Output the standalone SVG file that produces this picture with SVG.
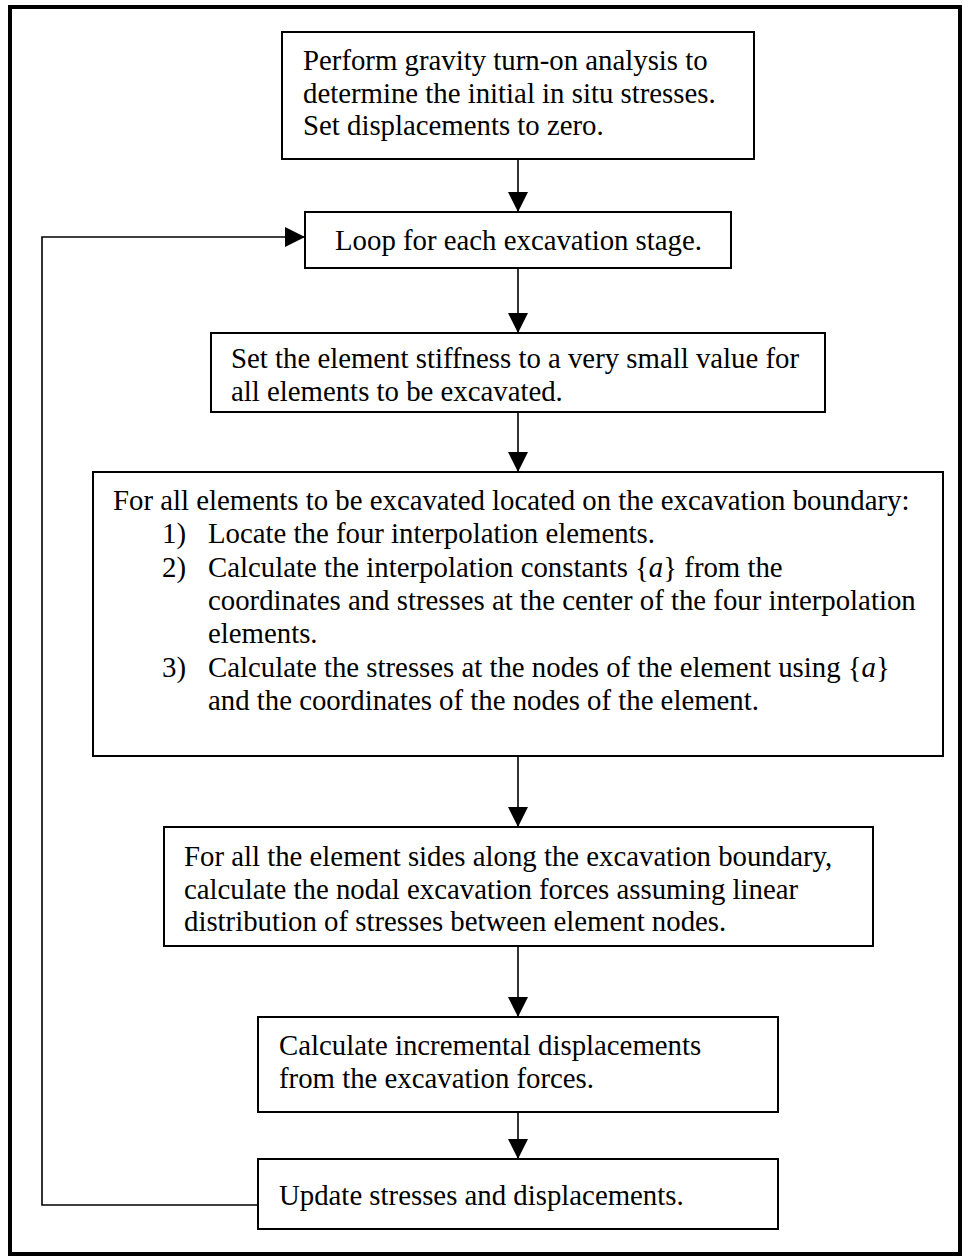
<svg xmlns="http://www.w3.org/2000/svg" width="964" height="1256" viewBox="0 0 964 1256">
<defs>
<style>
.box{fill:#fff;stroke:#000;stroke-width:2}
.t{font-family:"Liberation Serif","Times New Roman",serif;font-size:28.8px;fill:#000}
.c{fill:none;stroke:#000;stroke-width:1.6}
</style>
<marker id="ah" viewBox="0 0 20 20" refX="20" refY="10" markerWidth="20" markerHeight="20" markerUnits="userSpaceOnUse" orient="auto">
<path d="M0,0 L20,10 L0,20 Z" fill="#000"/>
</marker>
</defs>
<rect x="0" y="0" width="964" height="1256" fill="#fff"/>
<rect x="10" y="7" width="950" height="1247" fill="none" stroke="#000" stroke-width="4"/>
<g id="connectors">
<line class="c" x1="518" y1="159" x2="518" y2="212" marker-end="url(#ah)"/>
<line class="c" x1="518" y1="268" x2="518" y2="333" marker-end="url(#ah)"/>
<line class="c" x1="518" y1="412" x2="518" y2="472" marker-end="url(#ah)"/>
<line class="c" x1="518" y1="756" x2="518" y2="827" marker-end="url(#ah)"/>
<line class="c" x1="518" y1="946" x2="518" y2="1017" marker-end="url(#ah)"/>
<line class="c" x1="518" y1="1112" x2="518" y2="1159" marker-end="url(#ah)"/>
<polyline class="c" points="258,1205 42,1205 42,237 305,237" marker-end="url(#ah)"/>
</g>
<g id="n1">
<rect class="box" x="282" y="32" width="472" height="127"/>
<text class="t" x="303" y="70">Perform gravity turn-on analysis to</text>
<text class="t" x="303" y="103">determine the initial in situ stresses.</text>
<text class="t" x="303" y="135">Set displacements to zero.</text>
</g>
<g id="n2">
<rect class="box" x="305" y="212" width="426" height="56"/>
<text class="t" x="335" y="250">Loop for each excavation stage.</text>
</g>
<g id="n3">
<rect class="box" x="211" y="333" width="614" height="79"/>
<text class="t" x="231" y="368">Set the element stiffness to a very small value for</text>
<text class="t" x="231" y="401">all elements to be excavated.</text>
</g>
<g id="n4">
<rect class="box" x="93" y="472" width="850" height="284"/>
<text class="t" x="113" y="510">For all elements to be excavated located on the excavation boundary:</text>
<text class="t" x="162" y="543">1)</text>
<text class="t" x="208" y="543">Locate the four interpolation elements.</text>
<text class="t" x="162" y="577">2)</text>
<text class="t" x="208" y="577">Calculate the interpolation constants {<tspan font-style="italic">a</tspan>} from the</text>
<text class="t" x="208" y="610">coordinates and stresses at the center of the four interpolation</text>
<text class="t" x="208" y="643">elements.</text>
<text class="t" x="162" y="677">3)</text>
<text class="t" x="208" y="677">Calculate the stresses at the nodes of the element using {<tspan font-style="italic">a</tspan>}</text>
<text class="t" x="208" y="710">and the coordinates of the nodes of the element.</text>
</g>
<g id="n5">
<rect class="box" x="164" y="827" width="709" height="119"/>
<text class="t" x="184" y="866">For all the element sides along the excavation boundary,</text>
<text class="t" x="184" y="899">calculate the nodal excavation forces assuming linear</text>
<text class="t" x="184" y="931">distribution of stresses between element nodes.</text>
</g>
<g id="n6">
<rect class="box" x="258" y="1017" width="520" height="95"/>
<text class="t" x="279" y="1055">Calculate incremental displacements</text>
<text class="t" x="279" y="1088">from the excavation forces.</text>
</g>
<g id="n7">
<rect class="box" x="258" y="1159" width="520" height="70"/>
<text class="t" x="279" y="1205">Update stresses and displacements.</text>
</g>
</svg>
